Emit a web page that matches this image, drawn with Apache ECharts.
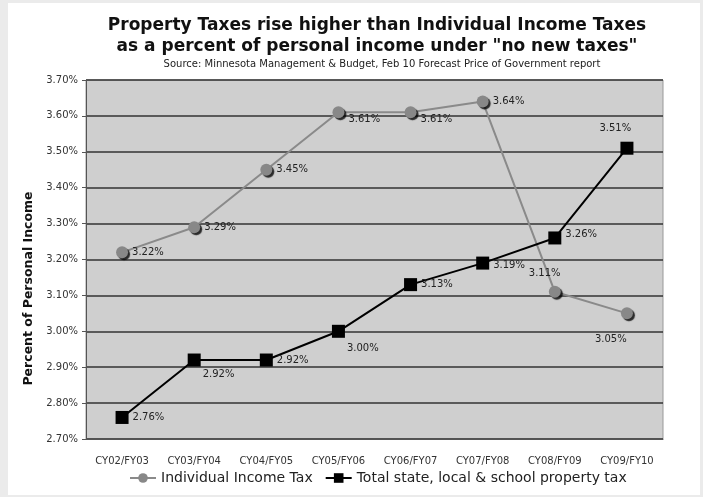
<!DOCTYPE html>
<html>
<head>
<meta charset="utf-8">
<script src="https://cdn.jsdelivr.net/npm/echarts@6/dist/echarts.min.js"></script>
<style>
  html, body { margin: 0; padding: 0; background: #ebebeb; }
  #chart { width: 703px; height: 497px; }
</style>
</head>
<body>
<div id="chart"></div>
<script>
// categories and values
var years = ['CY02/FY03', 'CY03/FY04', 'CY04/FY05', 'CY05/FY06', 'CY06/FY07', 'CY07/FY08', 'CY08/FY09', 'CY09/FY10'];
var incomeTax = [3.22, 3.29, 3.45, 3.61, 3.61, 3.64, 3.11, 3.05];
var propertyTax = [2.76, 2.92, 2.92, 3.00, 3.13, 3.19, 3.26, 3.51];

// label offsets per point [x, y]
var incomeOff = [[0, 0], [0, 0], [0, 0], [0, 7], [0, 7], [0, 0], [-36, -18], [-42, 26]];
var propOff = [[0, 0], [-2, 14], [0, 0], [-2, 17], [0, 0], [0, 2], [0, -4], [-38, -20]];

var chart = echarts.init(document.getElementById('chart'));

function pts(vals, offs) {
  var out = [];
  for (var i = 0; i < vals.length; i++) {
    out.push({ value: vals[i], label: { offset: offs[i] } });
  }
  return out;
}

var lbl = {
  show: true,
  position: 'right',
  distance: 4,
  fontFamily: 'DejaVu Sans',
  fontSize: 10,
  color: '#222',
  formatter: function (p) { return p.value.toFixed(2) + '%'; }
};

chart.setOption({
  backgroundColor: '#ebebeb',
  animation: false,
  graphic: [{
    type: 'rect', z: -10,
    shape: { x: 8, y: 3, width: 692, height: 492 },
    style: { fill: '#ffffff' }
  }],
  title: [{
    text: 'Property Taxes rise higher than Individual Income Taxes\nas a percent of personal income under "no new taxes"',
    left: 372, top: 10, textAlign: 'center',
    textStyle: { fontFamily: 'DejaVu Sans', fontWeight: 'bold', fontSize: 17, lineHeight: 21, color: '#111' }
  }, {
    text: 'Source: Minnesota Management & Budget, Feb 10 Forecast Price of Government report',
    left: 377, top: 54, textAlign: 'center',
    textStyle: { fontFamily: 'DejaVu Sans', fontWeight: 'normal', fontSize: 10, color: '#222' }
  }],
  legend: {
    bottom: 7, left: 124, width: 580,
    itemGap: 12, itemWidth: 26, itemHeight: 12,
    textStyle: { fontFamily: 'DejaVu Sans', fontSize: 14, color: '#222' },
    data: ['Individual Income Tax', 'Total state, local & school property tax']
  },
  grid: {
    left: 86, right: 40, top: 80, bottom: 58,
    show: true, backgroundColor: '#cfcfcf', borderColor: '#999', borderWidth: 1
  },
  xAxis: {
    type: 'category',
    data: years,
    axisLine: { lineStyle: { color: '#555' } },
    axisTick: { lineStyle: { color: '#555' } },
    axisLabel: { fontFamily: 'DejaVu Sans', fontSize: 10, color: '#333', margin: 17 }
  },
  yAxis: {
    type: 'value',
    min: 2.7, max: 3.7, interval: 0.1,
    name: 'Percent of Personal Income',
    nameLocation: 'middle', nameGap: 40,
    nameTextStyle: { fontFamily: 'DejaVu Sans', fontWeight: 'bold', fontSize: 12.5, color: '#111', padding: [0, 58, 0, 0] },
    axisLine: { show: true, lineStyle: { color: '#555' } },
    axisTick: { show: true, length: 4, lineStyle: { color: '#555' } },
    axisLabel: {
      fontFamily: 'DejaVu Sans', fontSize: 10, color: '#333',
      formatter: function (v) { return v.toFixed(2) + '%'; }
    },
    splitLine: { lineStyle: { color: '#333', width: 1.5 } }
  },
  series: [{
    name: 'Individual Income Tax',
    type: 'line',
    data: pts(incomeTax, incomeOff),
    symbol: 'circle', symbolSize: 12,
    lineStyle: { color: '#8a8a8a', width: 2 },
    itemStyle: { color: '#888888', shadowColor: 'rgba(0,0,0,0.8)', shadowOffsetX: 2, shadowOffsetY: 2, shadowBlur: 1 },
    label: lbl
  }, {
    name: 'Total state, local & school property tax',
    type: 'line',
    data: pts(propertyTax, propOff),
    symbol: 'rect', symbolSize: 13,
    lineStyle: { color: '#000', width: 2 },
    itemStyle: { color: '#000' },
    label: lbl
  }]
});
</script>
</body>
</html>
